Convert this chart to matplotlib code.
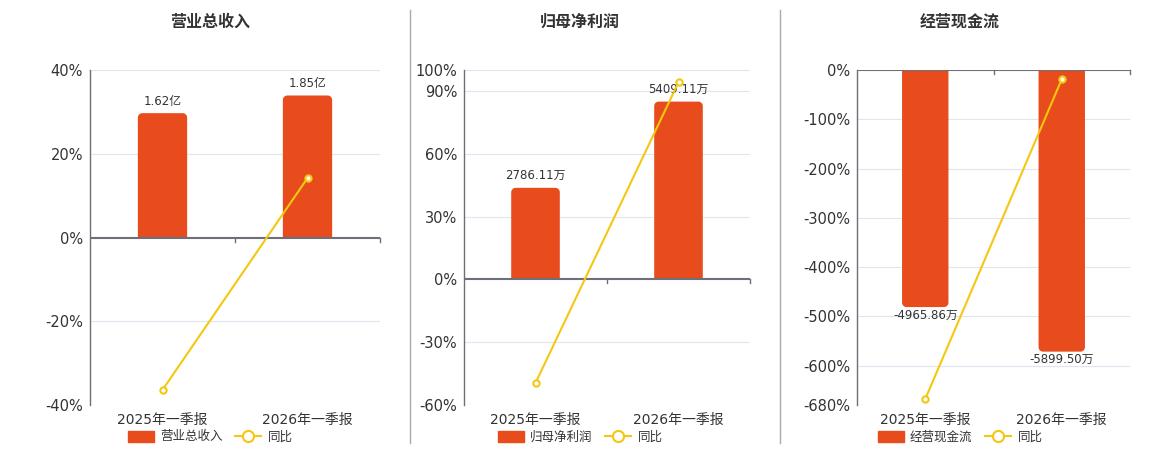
import matplotlib
matplotlib.use('Agg')
import matplotlib.pyplot as plt
from matplotlib.patches import Polygon, Rectangle
from matplotlib.lines import Line2D
import numpy as np

plt.rcParams['font.family'] = ['DejaVu Sans', 'Noto Sans CJK SC']

# Data
periods = ['2025年一季报', '2026年一季报']

titles = ['营业总收入', '归母净利润', '经营现金流']

revenue = [1.62, 1.85]            # 亿
revenue_labels = ['1.62亿', '1.85亿']
revenue_yoy = [-36.4, 14.2]       # %

profit = [2786.11, 5409.11]       # 万
profit_labels = ['2786.11万', '5409.11万']
profit_yoy = [-49.5, 94.15]

cashflow = [-4965.86, -5899.50]   # 万
cashflow_labels = ['-4965.86万', '-5899.50万']
cashflow_yoy = [-668.0, -18.8]

pct_ticks = [
    [40, 20, 0, -20, -40],
    [100, 90, 60, 30, 0, -30, -60],
    [0, -100, -200, -300, -400, -500, -600, -680],
]

BAR = '#E84C1C'
LINE = '#F5C710'
TXT = '#333333'
AXC = '#6E7079'
GRID = '#E0E6F1'


#~~~~~~~~~~~~~~~~~~~~~~~~~~~~~~~~~~~~~~~~~~~~~~#
def round_bars(ax, rects, radius_px=4.5):
    # swap plain bars for bars rounded at the far end
    p0 = ax.transData.transform((0, 0))
    p1 = ax.transData.transform((1, 1))
    rx = radius_px / (p1[0] - p0[0])
    ry = radius_px / abs(p1[1] - p0[1])
    th = np.linspace(0, np.pi / 2, 10)
    for rc in rects:
        xl, y0 = rc.get_x(), rc.get_y()
        w, h = rc.get_width(), rc.get_height()
        xr = xl + w
        y1 = y0 + h
        s = 1 if h >= 0 else -1
        yc = y1 - s * ry
        pts = [(xl, y0)]
        for t in th:
            pts.append((xl + rx - rx * np.cos(t), yc + s * ry * np.sin(t)))
        for t in th[::-1]:
            pts.append((xr - rx + rx * np.cos(t), yc + s * ry * np.sin(t)))
        pts.append((xr, y0))
        rc.set_visible(False)
        ax.add_patch(Polygon(pts, closed=True, fc=BAR, ec='none', zorder=2))


def draw_panel(fig, rect, bars, labels, yoy, ticks, bar_lim, center, title):
    ax = fig.add_axes(rect)
    ax2 = ax.twinx()
    ax.set_zorder(ax2.get_zorder() + 1)
    ax.patch.set_visible(False)

    x = np.arange(len(bars))
    pmin, pmax = min(ticks), max(ticks)

    # percent axis
    ax.set_ylim(pmin, pmax)
    ax.set_xlim(-0.5, len(bars) - 0.5)

    # bars on hidden axis
    ax2.set_ylim(bar_lim)
    ax2.set_xlim(-0.5, len(bars) - 0.5)
    for t in ticks:
        if t != 0:
            ax2.plot([-0.5, len(bars) - 0.5], [t, t], color=GRID, lw=0.8,
                     transform=ax.transData, zorder=0)
    rects = ax2.bar(x, bars, width=0.34, color=BAR, zorder=2)
    round_bars(ax2, rects)
    for r, lab, v in zip(rects, labels, bars):
        cx = r.get_x() + r.get_width() / 2
        if v >= 0:
            ax2.annotate(lab, (cx, v), xytext=(0, 4), textcoords='offset points',
                         ha='center', va='bottom', fontsize=8.5, color=TXT)
        else:
            ax2.annotate(lab, (cx, v), xytext=(0, -1), textcoords='offset points',
                         ha='center', va='top', fontsize=8.5, color=TXT)
    ax2.axis('off')

    ax.set_yticks(ticks)
    ax.set_yticklabels(['{}%'.format(t) for t in ticks])
    ax.tick_params(axis='y', length=0, labelsize=10.5, labelcolor=TXT, pad=5)
    ax.set_xticks(x)
    ax.set_xticklabels(periods)
    ax.tick_params(axis='x', length=0, labelsize=10, labelcolor=TXT, pad=6)
    for s in ['top', 'right', 'bottom']:
        ax.spines[s].set_visible(False)
    ax.spines['left'].set_color(AXC)
    ax.spines['left'].set_linewidth(1.0)

    # zero line with category ticks
    ax.axhline(0, color=AXC, lw=1.5, zorder=3)
    z = (0 - pmin) / (pmax - pmin)
    trans = ax.get_xaxis_transform()
    for b in [0.5, len(bars) - 0.5]:
        ax.plot([b, b], [z, z - 0.012], color=AXC, lw=1, transform=trans,
                clip_on=False, zorder=3)

    ax.plot(x, yoy, color=LINE, lw=1.5, marker='o', ms=4.5, mfc='white',
            mec=LINE, mew=1.5, zorder=5, clip_on=False)

    fig.text(center, 0.951, title, ha='center', va='center', fontsize=11.5,
             fontweight='bold', color=TXT)

    handles = [Rectangle((0, 0), 1, 1, color=BAR),
               Line2D([0], [0], color=LINE, lw=1.5, marker='o', ms=8,
                      mfc='white', mec=LINE, mew=1.5)]
    fig.legend(handles, [title, '同比'], loc='center', ncol=2,
               bbox_to_anchor=(center, 0.029), frameon=False, fontsize=9,
               handlelength=2.1, handleheight=1.0, columnspacing=1.0,
               handletextpad=0.5, labelcolor=TXT)
    return ax


fig = plt.figure(figsize=(11.6, 4.5), dpi=100)

draw_panel(fig, [90/1160, 0.1, 290/1160, 0.7444], revenue, revenue_labels,
           revenue_yoy, pct_ticks[0], (-2.182, 2.182), 210/1160, titles[0])
draw_panel(fig, [464/1160, 0.1, 286/1160, 0.7444], profit, profit_labels,
           profit_yoy, pct_ticks[1], (-3822, 6370), 580/1160, titles[1])
draw_panel(fig, [857/1160, 0.1, 273/1160, 0.7444], cashflow, cashflow_labels,
           cashflow_yoy, pct_ticks[2], (-7017, 0), 960/1160, titles[2])

# separators
for sx in [410/1160, 780/1160]:
    fig.add_artist(Line2D([sx, sx], [7/450, 1 - 10/450], color='#AAAAAA', lw=1))

fig.savefig('out.png', dpi=100)
